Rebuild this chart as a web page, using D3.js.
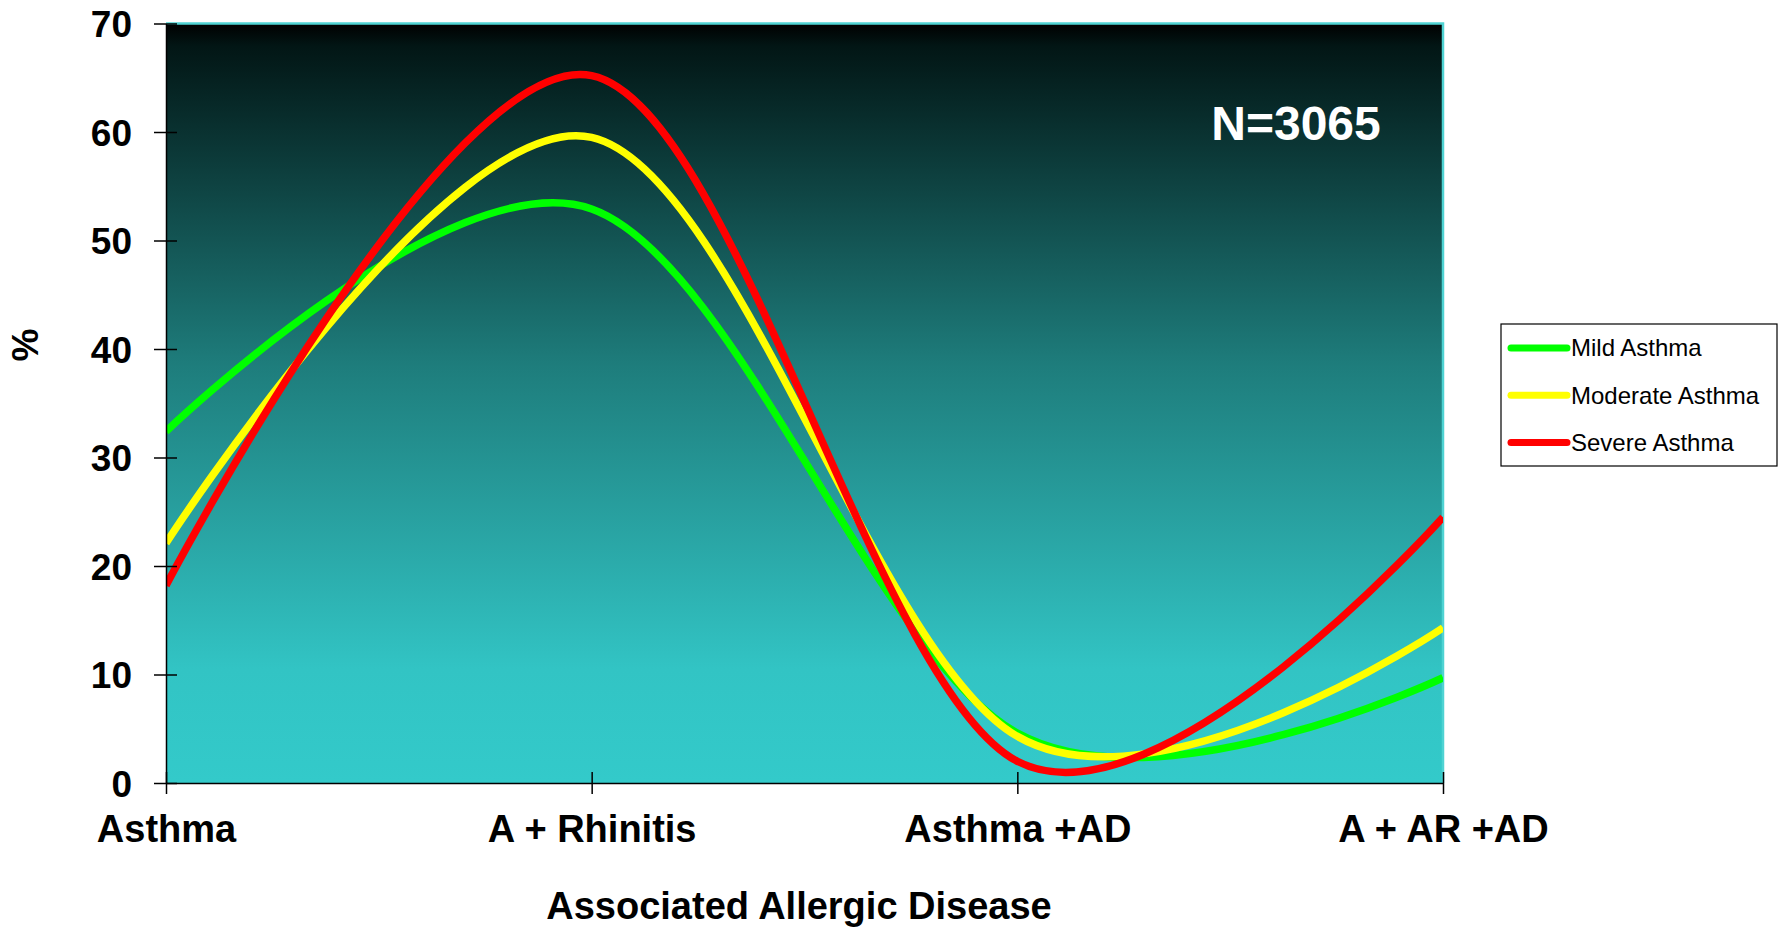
<!DOCTYPE html>
<html>
<head>
<meta charset="utf-8">
<script src="https://cdn.jsdelivr.net/npm/d3@7"></script>
<style>
	body{margin:0;background:#fff;}
	svg text{font-family:"Liberation Sans",Arial,sans-serif;}
</style>
</head>
<body>
<svg id="chart" width="1782" height="927"></svg>
<script>
// categories and series values
const categories = ['Asthma','A + Rhinitis','Asthma +AD','A + AR +AD'];
const mild = [32.4, 52.9, 4.6, 9.7];
const moderate = [22.1, 59.5, 4.3, 14.3];
const severe = [18.2, 65.2, 2.0, 24.5];
const seriesNames = ['Mild Asthma','Moderate Asthma','Severe Asthma'];
const seriesColors = ['#00ff00','#ffff00','#ff0000'];
const yTicks = [0,10,20,30,40,50,60,70];

const margin = {left:166, top:23.5, right:1782-1443, bottom:927-783};
const svg = d3.select('#chart');
const width = +svg.attr('width'), height = +svg.attr('height');

const x = d3.scalePoint().domain(categories).range([margin.left, width-margin.right]);
const y = d3.scaleLinear().domain([0,70]).range([height-margin.bottom, margin.top]);

// background gradient
const grad = svg.append('defs').append('linearGradient')
	.attr('id','bg').attr('x1',0).attr('y1',0).attr('x2',0).attr('y2',1);
grad.append('stop').attr('offset',0).attr('stop-color','#000000');
grad.append('stop').attr('offset',0.03).attr('stop-color','#021615');
grad.append('stop').attr('offset',0.45).attr('stop-color','#1e7d7c');
grad.append('stop').attr('offset',0.85).attr('stop-color','#32c4c4');
grad.append('stop').attr('offset',1).attr('stop-color','#33caca');

svg.append('rect')
	.attr('x',x.range()[0]).attr('y',y(70))
	.attr('width',x.range()[1]-x.range()[0]).attr('height',y(0)-y(70))
	.attr('fill','url(#bg)');
// cyan frame on top and right
svg.append('path')
	.attr('d',`M${x.range()[0]},${y(70)}H${x.range()[1]}V${y(0)}`)
	.attr('fill','none').attr('stroke','#4fd3d3').attr('stroke-width',2.5);

// smoothed lines
const line = d3.line()
	.x((d,i)=>x(categories[i]))
	.y(d=>y(d))
	.curve(d3.curveCardinal.tension(0));

const plot = svg.append('g');
plot.append('clipPath').attr('id','clip').append('rect')
	.attr('x',x.range()[0]).attr('y',y(70))
	.attr('width',x.range()[1]-x.range()[0]).attr('height',y(0)-y(70));
const lines = plot.append('g').attr('clip-path','url(#clip)');
[mild,moderate,severe].forEach((s,i)=>{
	lines.append('path')
		.datum(s)
		.attr('d',line)
		.attr('fill','none')
		.attr('stroke',seriesColors[i])
		.attr('stroke-width',7.5)
		.attr('stroke-linejoin','round');
});

// axes
const yAxis = d3.axisLeft(y).tickValues(yTicks).tickSizeInner(0).tickSizeOuter(0).tickPadding(34);
const gy = svg.append('g').attr('transform',`translate(${x.range()[0]},0)`).call(yAxis);
gy.select('.domain').attr('stroke','#000').attr('stroke-width',1.5);
gy.selectAll('.tick line').attr('x1',-12).attr('x2',11).attr('stroke','#000').attr('stroke-width',1.5);
gy.selectAll('.tick text')
	.attr('dy','0.36em')
	.style('font-size','37px').style('font-weight','bold').attr('fill','#000');

const xAxis = d3.axisBottom(x).tickSizeInner(0).tickSizeOuter(0).tickPadding(32);
const gx = svg.append('g').attr('transform',`translate(0,${y(0)})`).call(xAxis);
gx.select('.domain').attr('stroke','#000').attr('stroke-width',1.5);
gx.selectAll('.tick line').attr('y1',-11).attr('y2',11).attr('stroke','#000').attr('stroke-width',1.5);
gx.selectAll('.tick text')
	.attr('dy','0.71em')
	.style('font-size','38px').style('font-weight','bold').attr('fill','#000');

// titles
svg.append('text')
	.attr('x',799).attr('y',919)
	.attr('text-anchor','middle')
	.style('font-size','38px').style('font-weight','bold')
	.text('Associated Allergic Disease');
svg.append('text')
	.attr('transform','translate(38,345) rotate(-90)')
	.attr('text-anchor','middle')
	.style('font-size','37px').style('font-weight','bold')
	.text('%');
svg.append('text')
	.attr('x',1296).attr('y',140)
	.attr('text-anchor','middle')
	.attr('fill','#fff')
	.style('font-size','48px').style('font-weight','bold')
	.text('N=3065');

// legend
const legend = svg.append('g').attr('transform','translate(1501,324)');
legend.append('rect').attr('width',276).attr('height',142)
	.attr('fill','#fff').attr('stroke','#000').attr('stroke-width',1.2);
seriesNames.forEach((name,i)=>{
	const g = legend.append('g').attr('transform',`translate(0,${24+i*47.3})`);
	g.append('line').attr('x1',10).attr('x2',66)
		.attr('stroke',seriesColors[i]).attr('stroke-width',7).attr('stroke-linecap','round');
	g.append('text').attr('x',70).attr('dy','0.35em')
		.style('font-size','24px').text(name);
});
</script>
</body>
</html>
